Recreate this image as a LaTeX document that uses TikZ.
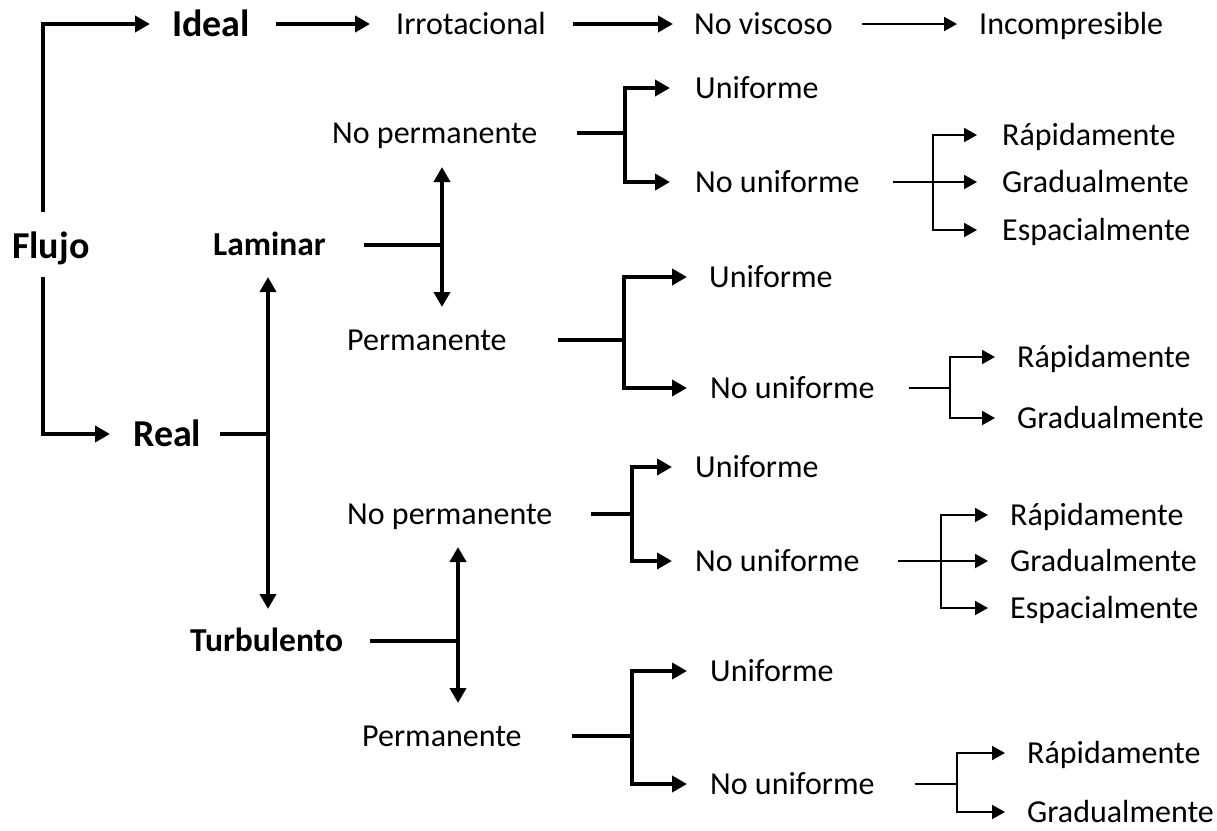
\documentclass[tikz,border=0pt]{standalone}
\usepackage{fontspec}
\setmainfont{Carlito}
\usetikzlibrary{arrows.meta}

\tikzset{
  lbl/.style={inner sep=0pt, anchor=west, text depth=0pt},
  txt/.style={lbl, font=\fontsize{32}{38}\selectfont, text height=21pt},
  big/.style={lbl, font=\fontsize{38}{44}\selectfont\bfseries, text height=24.5pt},
  mid/.style={lbl, font=\fontsize{33.5}{40}\selectfont\bfseries, text height=21.5pt},
  thk/.style={line width=4pt},
  thn/.style={line width=2pt},
  arrT/.style={thk, -{Triangle[length=15pt,width=16pt]}, shorten >=23pt},
  arrt/.style={thn, -{Triangle[length=13pt,width=14pt]}, shorten >=22pt},
  darr/.style={thk, {Triangle[length=15pt,width=16pt]}-{Triangle[length=15pt,width=16pt]}},
}

\begin{document}
\begin{tikzpicture}[x=1pt,y=-1pt]
\useasboundingbox (0,0) rectangle (1217,830);

% ---- labels ----
\node[big] (Flujo) at (12,246) {Flujo};
\node[big] (Ideal) at (172,24) {Ideal};
\node[big] (Real)  at (133,434) {Real};
\node[mid] (Lam)   at (213,245) {Laminar};
\node[mid] (Turb)  at (190,641) {Turbulento};

\node[txt] (Irrot)  at (396,24) {Irrotacional};
\node[txt] (NoVisc) at (694,24) {No viscoso};
\node[txt] (Incomp) at (979,24) {Incompresible};

% laminar, no permanente
\node[txt] (npL)  at (332,133) {No permanente};
\node[txt] (uL1)  at (695,88)  {Uniforme};
\node[txt] (nuL1) at (695,182) {No uniforme};
\node[txt] (rL1)  at (1002,135) {Rápidamente};
\node[txt] (gL1)  at (1002,182) {Gradualmente};
\node[txt] (eL1)  at (1002,230) {Espacialmente};

% laminar, permanente
\node[txt] (pL)   at (347,340) {Permanente};
\node[txt] (uL2)  at (709,277) {Uniforme};
\node[txt] (nuL2) at (710,388) {No uniforme};
\node[txt] (rL2)  at (1017,357) {Rápidamente};
\node[txt] (gL2)  at (1017,418) {Gradualmente};

% turbulento, no permanente
\node[txt] (npT)  at (347,514) {No permanente};
\node[txt] (uT1)  at (695,467) {Uniforme};
\node[txt] (nuT1) at (695,561) {No uniforme};
\node[txt] (rT1)  at (1010,515) {Rápidamente};
\node[txt] (gT1)  at (1010,561) {Gradualmente};
\node[txt] (eT1)  at (1010,608) {Espacialmente};

% turbulento, permanente
\node[txt] (pT)   at (362,736) {Permanente};
\node[txt] (uT2)  at (710,671) {Uniforme};
\node[txt] (nuT2) at (710,784) {No uniforme};
\node[txt] (rT2)  at (1027,753) {Rápidamente};
\node[txt] (gT2)  at (1027,812) {Gradualmente};

% ---- junction points and free ends ----
\coordinate (f1) at (43,212);
\coordinate (f2) at (43,277);
\coordinate (jR)   at (268,434);
\coordinate (rTop) at (268,277);
\coordinate (rBot) at (268,609);
\coordinate (jLam) at (442,245);
\coordinate (lTop) at (442,167);
\coordinate (lBot) at (442,307);
\coordinate (jTurb) at (458,641);
\coordinate (tTop) at (458,547);
\coordinate (tBot) at (458,703);
\coordinate (jL1) at (625,133);
\coordinate (jA)  at (933,182);
\coordinate (jL2) at (624,340);
\coordinate (jB)  at (950,388);
\coordinate (jT1) at (632,514);
\coordinate (jC)  at (941,561);
\coordinate (jT2) at (632,736);
\coordinate (jD)  at (957,784);

% ---- ideal flow chain ----
\draw[arrT, shorten >=22pt] (f1) |- (Ideal);
\draw[arrT, shorten <=26pt, shorten >=26pt] (Ideal) -- (Irrot);
\draw[arrT, shorten <=27pt, shorten >=21pt] (Irrot) -- (NoVisc);
\draw[arrt, shorten <=29pt, shorten >=22pt] (NoVisc) -- (Incomp);

% ---- real flow ----
\draw[arrT] (f2) |- (Real);
\draw[thk, shorten <=19pt] (Real) -- (jR);
\draw[darr] (rTop) -- (rBot);

\draw[thk, shorten <=38pt] (Lam) -- (jLam);
\draw[darr] (lTop) -- (lBot);
\draw[thk, shorten <=27pt] (Turb) -- (jTurb);
\draw[darr] (tTop) -- (tBot);

% laminar, no permanente
\draw[thk, shorten <=39pt] (npL) -- (jL1);
\draw[arrT, shorten >=25pt] (jL1) |- (uL1);
\draw[arrT, shorten >=25pt] (jL1) |- (nuL1);
\draw[thn, shorten <=33pt] (nuL1) -- (jA);
\draw[arrt, shorten >=25pt] (jA) |- (rL1);
\draw[arrt, shorten >=25pt] (jA) -- (gL1);
\draw[arrt, shorten >=25pt] (jA) |- (eL1);

% laminar, permanente
\draw[thk, shorten <=51pt] (pL) -- (jL2);
\draw[arrT, shorten >=22pt] (jL2) |- (uL2);
\draw[arrT] (jL2) |- (nuL2);
\draw[thn, shorten <=34pt] (nuL2) -- (jB);
\draw[arrt] (jB) |- (rL2);
\draw[arrt] (jB) |- (gL2);

% turbulento, no permanente
\draw[thk, shorten <=38pt] (npT) -- (jT1);
\draw[arrT] (jT1) |- (uT1);
\draw[arrT] (jT1) |- (nuT1);
\draw[thn, shorten <=38pt] (nuT1) -- (jC);
\draw[arrt] (jC) |- (rT1);
\draw[arrt] (jC) -- (gT1);
\draw[arrt] (jC) |- (eT1);

% turbulento, permanente
\draw[thk, shorten <=50pt] (pT) -- (jT2);
\draw[arrT] (jT2) |- (uT2);
\draw[arrT] (jT2) |- (nuT2);
\draw[thn, shorten <=40pt] (nuT2) -- (jD);
\draw[arrt] (jD) |- (rT2);
\draw[arrt] (jD) |- (gT2);
\end{tikzpicture}
\end{document}
